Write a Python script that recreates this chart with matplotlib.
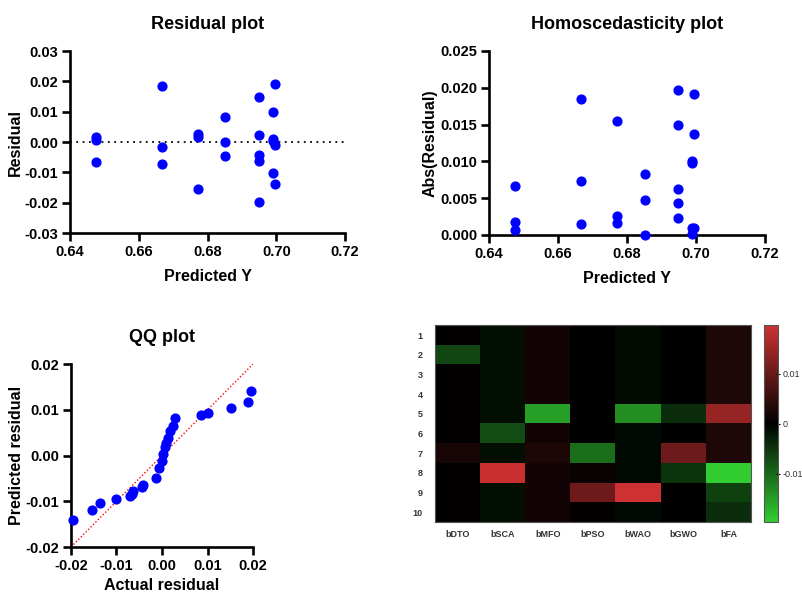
import numpy as np
import matplotlib
matplotlib.use("Agg")
import matplotlib.pyplot as plt
from matplotlib.colors import LinearSegmentedColormap

# residual plot / homoscedasticity data (predicted Y, residual)
pred_y = [0.6475, 0.6475, 0.6475,
          0.6667, 0.6667, 0.6667,
          0.6771, 0.6771, 0.6771,
          0.6851, 0.6851, 0.6851,
          0.6949, 0.6949, 0.6949, 0.6949, 0.6949,
          0.6995, 0.6990, 0.6990, 0.6990, 0.6995, 0.6990, 0.6995]
residual = [0.0017, 0.0007, -0.0067,
            0.0185, -0.0015, -0.0073,
            0.0026, 0.0016, -0.0155,
            0.0083, 0.0000, -0.0047,
            0.0149, 0.0023, -0.0043, -0.0063, -0.0197,
            0.0191, 0.0098, 0.0009, 0.0002, -0.0010, -0.0101, -0.0137]

# QQ plot
qq_actual = [-0.0196, -0.0153, -0.0136, -0.0101, -0.0070, -0.0067, -0.0063,
             -0.0045, -0.0041, -0.0014, -0.0007, 0.0000, 0.0003, 0.0006,
             0.0009, 0.0013, 0.0018, 0.0025, 0.0028, 0.0086, 0.0101,
             0.0151, 0.0188, 0.0196]
qq_predicted = [-0.0142, -0.0118, -0.0104, -0.0096, -0.0088, -0.0083, -0.0077,
                -0.0069, -0.0064, -0.0049, -0.0028, -0.0012, 0.0003, 0.0018,
                0.0028, 0.0039, 0.0053, 0.0064, 0.0081, 0.0088, 0.0094,
                0.0104, 0.0116, 0.0141]

# heatmap
algorithms = ["bDTO", "bSCA", "bMFO", "bPSO", "bWAO", "bGWO", "bFA"]
runs = [str(i) for i in range(1, 11)]
heat_values = [
    [0.0003, -0.0014, 0.0017, 0.0000, -0.0010, 0.0000, 0.0029],
    [-0.0067, -0.0014, 0.0017, 0.0000, -0.0010, 0.0000, 0.0029],
    [0.0003, -0.0014, 0.0017, 0.0000, -0.0010, 0.0000, 0.0029],
    [0.0003, -0.0014, 0.0017, 0.0000, -0.0010, 0.0000, 0.0029],
    [0.0003, -0.0014, -0.0153, 0.0000, -0.0135, -0.0043, 0.0143],
    [0.0003, -0.0072, 0.0017, 0.0000, -0.0008, 0.0000, 0.0029],
    [0.0024, -0.0014, 0.0027, -0.0105, -0.0008, 0.0103, 0.0029],
    [0.0003, 0.0190, 0.0017, 0.0010, -0.0008, -0.0050, -0.0196],
    [0.0003, -0.0014, 0.0017, 0.0105, 0.0195, 0.0000, -0.0062],
    [0.0003, -0.0014, 0.0017, 0.0003, -0.0008, 0.0000, -0.0043],
]


def style_axes(ax):
    for side in ["top", "right"]:
        ax.spines[side].set_visible(False)
    for side in ["left", "bottom"]:
        ax.spines[side].set_linewidth(1.9)
    ax.tick_params(axis="both", direction="out", length=5.5, width=1.9,
                   labelsize=10.5, pad=3)
    for lab in ax.get_xticklabels() + ax.get_yticklabels():
        lab.set_fontweight("bold")


def draw():
    plt.rcParams["font.family"] = ["Liberation Sans", "DejaVu Sans"]
    fig = plt.figure(figsize=(8.02, 5.94), dpi=100)
    blue = "#0000ff"
    title_kw = dict(fontsize=13, fontweight="bold", pad=16)
    label_kw = dict(fontsize=11.5, fontweight="bold")

    # residual plot
    ax1 = fig.add_axes([0.0873, 0.6077, 0.343, 0.3064])
    ax1.plot([0.64, 0.72], [0, 0], color="k", linestyle=(0, (1, 2.5)), linewidth=1.3)
    ax1.scatter(pred_y, residual, s=40, color=blue, zorder=3)
    ax1.set_xlim(0.64, 0.72)
    ax1.set_ylim(-0.03, 0.03)
    ax1.set_xticks(np.arange(0.64, 0.7201, 0.02))
    ax1.set_yticks(np.arange(-0.03, 0.0301, 0.01))
    ax1.set_xticklabels(["0.64", "0.66", "0.68", "0.70", "0.72"])
    ax1.set_yticklabels(["-0.03", "-0.02", "-0.01", "0.00", "0.01", "0.02", "0.03"])
    ax1.set_xlabel("Predicted Y", labelpad=7, **label_kw)
    ax1.set_ylabel("Residual", labelpad=1, **label_kw)
    ax1.set_title("Residual plot", **title_kw)
    style_axes(ax1)

    # homoscedasticity plot
    ax2 = fig.add_axes([0.6097, 0.6044, 0.344, 0.31])
    ax2.scatter(pred_y, np.abs(residual), s=40, color=blue, zorder=3, clip_on=False)
    ax2.set_xlim(0.64, 0.72)
    ax2.set_ylim(0, 0.025)
    ax2.set_xticks(np.arange(0.64, 0.7201, 0.02))
    ax2.set_yticks(np.arange(0, 0.02501, 0.005))
    ax2.set_xticklabels(["0.64", "0.66", "0.68", "0.70", "0.72"])
    ax2.set_yticklabels(["0.000", "0.005", "0.010", "0.015", "0.020", "0.025"])
    ax2.set_xlabel("Predicted Y", labelpad=7, **label_kw)
    ax2.set_ylabel("Abs(Residual)", labelpad=2, **label_kw)
    ax2.set_title("Homoscedasticity plot", **title_kw)
    style_axes(ax2)

    # QQ plot
    ax3 = fig.add_axes([0.0885, 0.0791, 0.227, 0.308])
    ax3.plot([-0.02, 0.02], [-0.02, 0.02], color="red", linestyle=(0, (1, 1.5)), linewidth=1.0)
    ax3.scatter(qq_actual, qq_predicted, s=40, color=blue, zorder=3, clip_on=False)
    ax3.set_xlim(-0.02, 0.02)
    ax3.set_ylim(-0.02, 0.02)
    ax3.set_xticks([-0.02, -0.01, 0, 0.01, 0.02])
    ax3.set_yticks([-0.02, -0.01, 0, 0.01, 0.02])
    ax3.set_xticklabels(["-0.02", "-0.01", "0.00", "0.01", "0.02"])
    ax3.set_yticklabels(["-0.02", "-0.01", "0.00", "0.01", "0.02"])
    ax3.set_xlabel("Actual residual", labelpad=4, **label_kw)
    ax3.set_ylabel("Predicted residual", labelpad=1, **label_kw)
    ax3.set_title("QQ plot", **title_kw)
    style_axes(ax3)

    # heatmap
    cmap = LinearSegmentedColormap.from_list(
        "gkr", [(0.196, 0.804, 0.196), (0, 0, 0), (0.804, 0.196, 0.196)])
    ax4 = fig.add_axes([0.5424, 0.1212, 0.394, 0.331])
    im = ax4.imshow(np.array(heat_values), cmap=cmap, vmin=-0.0196, vmax=0.0196,
                    aspect="auto", interpolation="nearest")
    ax4.set_xticks(range(len(algorithms)))
    ax4.set_xticklabels(algorithms, fontsize=6.5, fontweight="bold", color="#333333")
    ax4.set_yticks(range(len(runs)))
    ax4.set_yticklabels(runs, fontsize=6.5, fontweight="bold", color="#333333")
    ax4.tick_params(axis="x", length=0, pad=6)
    ax4.tick_params(axis="y", length=0, pad=9)
    for sp in ax4.spines.values():
        sp.set_color("#555555")
        sp.set_linewidth(0.8)

    cax = fig.add_axes([0.953, 0.1212, 0.0175, 0.331])
    cb = fig.colorbar(im, cax=cax, ticks=[-0.01, 0, 0.01])
    cb.ax.set_yticklabels(["-0.01", "0", "0.01"], fontsize=6.5, color="#333333")
    cb.ax.tick_params(length=3, width=0.8, direction="inout", pad=1.5)
    cb.outline.set_edgecolor("#555555")
    cb.outline.set_linewidth(0.8)

    fig.savefig("out.png", dpi=100)
    plt.close("all")


if __name__ == "__main__":
    draw()
